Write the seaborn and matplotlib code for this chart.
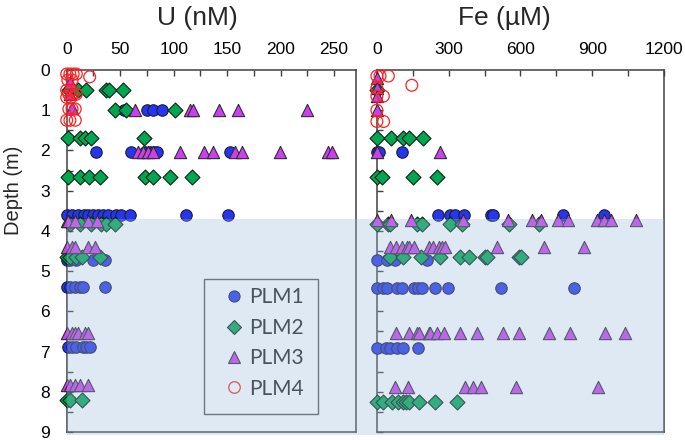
import matplotlib
matplotlib.use("Agg")
import matplotlib.pyplot as plt
import numpy as np
import pandas as pd
import seaborn as sns
from matplotlib.patches import Rectangle
from matplotlib.lines import Line2D
from matplotlib.ticker import MultipleLocator, FixedLocator

# ---------------- data (depth in m -> concentrations) ----------------
series = ["PLM1", "PLM2", "PLM3", "PLM4"]

# Uranium, nM
U_PLM1 = {1.0: [54, 75, 81, 89],
          2.05: [27, 60, 73, 78, 82, 84, 153],
          3.6: [0, 5, 11, 16, 20, 25, 29, 34, 39, 46, 51, 59, 112, 151],
          4.72: [0, 3, 9, 25, 36],
          5.4: [0, 3, 7.5, 12, 15, 36],
          6.88: [1, 4.5, 9, 15, 18.5, 21.5]}
U_PLM2 = {0.5: [2, 10.5, 18, 37, 40, 53],
          1.0: [45, 55, 101],
          1.7: [1, 12, 17, 23, 72],
          2.65: [1, 12, 21, 31.5, 73, 81, 96.5, 117],
          3.82: [3, 12, 23, 32, 37, 45],
          4.64: [0, 3, 9, 14, 31],
          8.2: [0, 3, 14]}
U_PLM3 = {0.3: [3], 0.6: [3], 0.95: [5],
          1.0: [64, 115, 118, 142, 160, 225],
          2.05: [67, 71.5, 76, 81, 106, 128, 137, 157, 163.5, 199.5, 244.7, 247.8],
          3.75: [0, 1, 7.5, 20, 28],
          4.4: [0, 4.5, 7.5, 20, 26],
          6.55: [0, 4.5, 7.5, 10.6, 17, 20],
          7.84: [0, 3, 7.5, 12, 20]}
U_PLM4 = {0.1: [0, 3, 6, 9],
          0.17: [21.5],
          0.25: [1, 5],
          0.5: [0, 4],
          0.6: [2, 6, 9],
          0.68: [0, 4],
          0.97: [2, 5, 8],
          1.25: [0, 3, 8]}

# Iron, uM
FE_PLM1 = {2.05: [0, 10, 104],
           3.6: [255, 304, 325, 366, 475, 486, 776, 951],
           4.72: [0, 41, 76, 209],
           5.41: [0, 27, 41, 83, 104, 153, 170, 188, 244, 296, 520, 822],
           6.9: [0, 38, 55, 83, 111, 171]}
FE_PLM2 = {0.5: [0], 1.7: [0, 58, 111, 136, 192],
           2.65: [0, 20, 149, 251],
           3.82: [0, 48, 55, 167, 188, 307, 356, 552, 678],
           4.66: [55, 111, 185, 262, 349, 384, 450, 461, 594, 601],
           8.25: [0, 24, 62, 90, 108, 122, 136, 174, 244, 335]}
FE_PLM3 = {0.2: [0], 0.45: [0], 0.65: [0], 1.0: [0],
           2.05: [0, 262],
           3.73: [0, 59, 143, 360, 549, 650, 685, 755, 800, 920, 951, 979, 1084],
           4.4: [55, 80, 104, 125, 136, 153, 216, 234, 258, 272, 286, 503, 699, 864],
           6.55: [80, 136, 167, 174, 216, 223, 251, 282, 349, 419, 528, 594, 720, 808, 955, 1035],
           7.88: [76, 132, 367, 402, 436, 580, 926]}
FE_PLM4 = {0.15: [0, 13, 48],
           0.38: [146],
           0.45: [0],
           0.65: [0, 27],
           1.0: [0],
           1.28: [0, 28]}

u_ticks = [0, 50, 100, 150, 200, 250]
fe_ticks = [0, 300, 600, 900, 1200]
depth_ticks = [0, 1, 2, 3, 4, 5, 6, 7, 8, 9]
suboxic_top = 3.7

legend_labels = series

# ---------------- build tidy table ----------------
rows = []
for panel, dsets in (("U", [U_PLM1, U_PLM2, U_PLM3, U_PLM4]),
                     ("Fe", [FE_PLM1, FE_PLM2, FE_PLM3, FE_PLM4])):
    for name, d in zip(series, dsets):
        for depth, vals in d.items():
            for v in vals:
                rows.append((panel, name, depth, v))
df = pd.DataFrame(rows, columns=["panel", "series", "depth", "value"])

# ---------------- styling ----------------
sns.set_theme(style="white")
plt.rcParams["font.family"] = ["Liberation Sans", "DejaVu Sans"]

styles = {
    "PLM1": dict(marker="o", s=68, color="#2536ee", edgecolor="#1c1c3a", linewidth=0.8),
    "PLM2": dict(marker="D", s=58, color="#00a651", edgecolor="#0f1f14", linewidth=0.8),
    "PLM3": dict(marker="^", s=78, color="#cc3ff0", edgecolor="#2e2e2e", linewidth=0.8),
    "PLM4": dict(marker="o", s=72, facecolors="none", edgecolor="#ff2020", linewidth=0.9),
}

W, H = 685, 440
fig = plt.figure(figsize=(W / 100, H / 100), dpi=100)
ax1 = fig.add_axes([66.7 / W, 1 - 432 / H, (355.5 - 66.7) / W, 362 / H])
ax2 = fig.add_axes([376.9 / W, 1 - 432 / H, (664 - 376.9) / W, 362 / H])

spine_col = "#404040"
for ax, panel, xmax, ticks, minor in ((ax1, "U", 270, u_ticks, 25),
                                     (ax2, "Fe", 1200, fe_ticks, 150)):
    sub = df[df.panel == panel]
    for name in series:
        sns.scatterplot(data=sub[sub.series == name], x="value", y="depth",
                        ax=ax, legend=False, zorder=3, clip_on=False, **styles[name])
    ax.set_xlim(0, xmax)
    ax.set_ylim(9, 0)
    ax.set_xlabel("")
    ax.set_ylabel("")
    ax.xaxis.tick_top()
    ax.set_xticks(ticks)
    ax.xaxis.set_minor_locator(FixedLocator([t + minor for t in ticks[:-1]]))
    ax.set_yticks(depth_ticks)
    ax.yaxis.set_minor_locator(MultipleLocator(0.5))
    ax.tick_params(axis="both", which="both", direction="in", length=4, width=1,
                   color=spine_col, labelcolor="black", labelsize=12.5,
                   top=True, bottom=False, left=True, right=False)
    ax.tick_params(axis="x", pad=9)
    ax.tick_params(axis="y", pad=12)
    for sp in ax.spines.values():
        sp.set_color(spine_col)
        sp.set_linewidth(1.1)
    ax.set_facecolor("white")

ax2.tick_params(axis="y", labelleft=False)

fig.text(197 / W, 1 - 18 / H, "U (nM)", fontsize=19, ha="center", va="center")
fig.text(504 / W, 1 - 18 / H, "Fe (\u00b5M)", fontsize=19, ha="center", va="center")
fig.text(14 / W, 1 - 190 / H, "Depth (m)", fontsize=14.5, rotation=90,
         ha="center", va="center")

# legend frame + legend
frame = Rectangle((204 / W, 1 - 414 / H), 114 / W, 135 / H, transform=fig.transFigure,
                  facecolor="white", edgecolor="#555555", linewidth=1.0, zorder=5)
fig.add_artist(frame)
handles = []
for name in series:
    st = styles[name]
    if name == "PLM4":
        h = Line2D([], [], linestyle="none", marker="o", markersize=8.3,
                   markerfacecolor="none", markeredgecolor="#ff2020", markeredgewidth=0.9)
    else:
        ms = {"PLM1": 8.0, "PLM2": 7.3, "PLM3": 8.4}[name]
        h = Line2D([], [], linestyle="none", marker=st["marker"], markersize=ms,
                   markerfacecolor=st["color"], markeredgecolor=st["edgecolor"],
                   markeredgewidth=0.8)
    handles.append(h)
leg = fig.legend(handles, legend_labels, loc="upper left",
                 bbox_to_anchor=(223.3 / W, 1 - 287.4 / H), bbox_transform=fig.transFigure,
                 frameon=False, borderpad=0, borderaxespad=0, handlelength=1.0,
                 handletextpad=0.22, labelspacing=0.5,
                 prop={"family": ["Lato", "DejaVu Sans"], "size": 15})
for t in leg.get_texts():
    t.set_color("#222222")
leg.set_zorder(6)

# shaded (suboxic) zone overlay
p = ax1.get_position()
p2 = ax2.get_position()
top_frac = p.y0 + p.height * (1 - suboxic_top / 9)
shade = Rectangle((p.x0, p.y0 - 3 / H), p2.x1 - p.x0, top_frac - p.y0 + 3 / H,
                  transform=fig.transFigure, facecolor="#9bbcde", alpha=0.32,
                  edgecolor="none", zorder=10)
fig.add_artist(shade)

fig.savefig("out.png", dpi=100)
